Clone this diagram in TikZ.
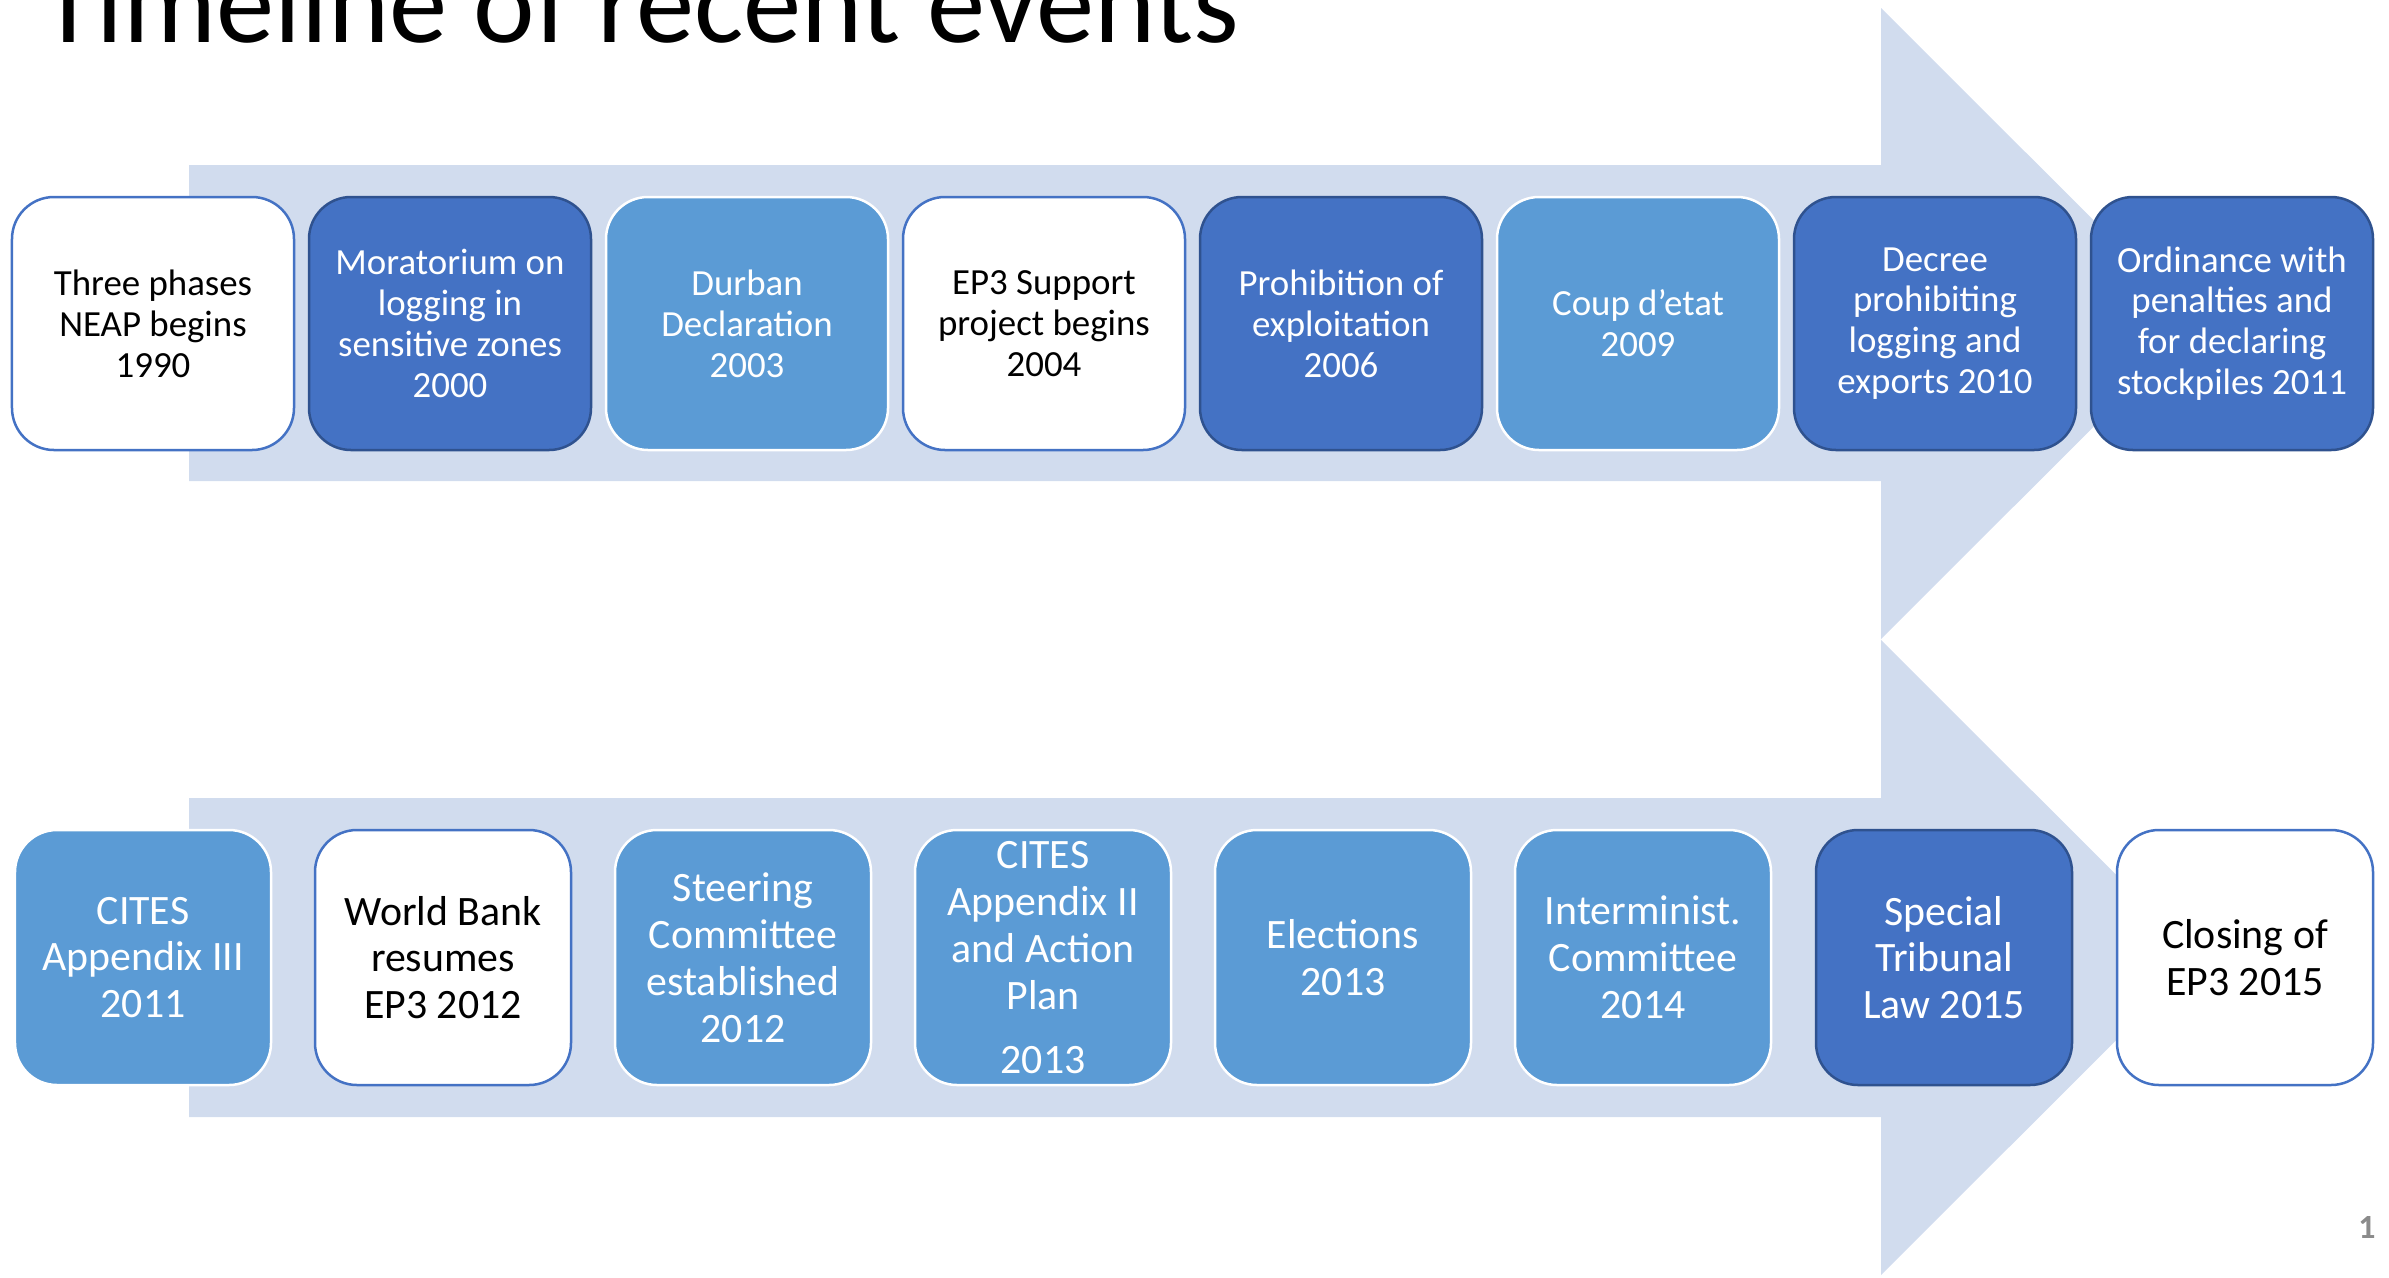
\documentclass[tikz,border=0pt]{standalone}
\usepackage{fontspec}
\setmainfont{Carlito}
\definecolor{arrowfill}{RGB}{209,220,238}
\definecolor{darkblue}{HTML}{4472C4}
\definecolor{darkedge}{HTML}{2F528F}
\definecolor{lightblue}{HTML}{5B9BD5}
\definecolor{pagegray}{HTML}{8B8B8B}

\begin{document}
\begin{tikzpicture}[x=1bp,y=-1bp]\tikzstyle{every node} = [align=center, inner sep=0pt]
      \tikzstyle{box} = [draw, rectangle, rounded corners=42bp, line width=2.5bp]
      \tikzstyle{topbox} = [box, minimum width=282bp, minimum height=253bp, font=\fontsize{37}{41}\selectfont]
      \tikzstyle{lowbox} = [box, minimum width=256bp, minimum height=255bp, font=\fontsize{42}{47}\selectfont]
      \tikzstyle{whitebox} = [fill=white, draw=darkblue, text=black]
      \tikzstyle{darkbox} = [fill=darkblue, draw=darkedge, text=white]
      \tikzstyle{lightbox} = [fill=lightblue, draw=white, text=white]

      \clip (0,0) rectangle (2389,1277);

      \node[anchor=base west, font=\fontsize{117}{122}\selectfont] (title) at (40,42) {Timeline of recent events};

      % the two big arrows
      \fill[arrowfill] (189,165) -- (1881,165) -- (1881,8) -- (2197,323.5) -- (1881,639) -- (1881,481) -- (189,481) -- cycle;
      \fill[arrowfill] (189,798) -- (1881,798) -- (1881,640) -- (2199,957.5) -- (1881,1275) -- (1881,1117) -- (189,1117) -- cycle;

      % first row
      \node[topbox,whitebox] (t1) at (153,323.5)  {Three phases\\NEAP begins\\1990};
      \node[topbox,darkbox]  (t2) at (450,323.5)  {Moratorium on\\logging in\\sensitive zones\\2000};
      \node[topbox,lightbox] (t3) at (747,323.5)  {Durban\\Declaration\\2003};
      \node[topbox,whitebox] (t4) at (1044,323.5) {EP3 Support\\project begins\\2004};
      \node[topbox,darkbox]  (t5) at (1341,323.5) {Prohibition of\\exploitation\\2006};
      \node[topbox,lightbox] (t6) at (1638,323.5) {Coup d’etat\\2009};
      \node[topbox,darkbox]  (t7) at (1935,323.5) {Decree\\prohibiting\\logging and\\exports 2010};
      \node[topbox,darkbox]  (t8) at (2232,323.5) {Ordinance with\\penalties and\\for declaring\\stockpiles 2011};

      % second row
      \node[lowbox,lightbox] (b1) at (143,957.5)  {CITES\\Appendix III\\2011};
      \node[lowbox,whitebox] (b2) at (443,957.5)  {World Bank\\resumes\\EP3 2012};
      \node[lowbox,lightbox] (b3) at (743,957.5)  {Steering\\Committee\\established\\2012};
      \node[lowbox,lightbox] (b4) at (1043,957.5) {CITES\\Appendix II\\and Action\\Plan\\[17bp]2013};
      \node[lowbox,lightbox] (b5) at (1343,957.5) {Elections\\2013};
      \node[lowbox,lightbox] (b6) at (1643,957.5) {Interminist.\\Committee\\2014};
      \node[lowbox,darkbox]  (b7) at (1944,957.5) {Special\\Tribunal\\Law 2015};
      \node[lowbox,whitebox] (b8) at (2245,957.5) {Closing of\\EP3 2015};

      \node[font=\fontsize{34}{38}\selectfont\bfseries, text=pagegray] (pagenum) at (2367,1227) {1};
    \end{tikzpicture}
\end{document}
